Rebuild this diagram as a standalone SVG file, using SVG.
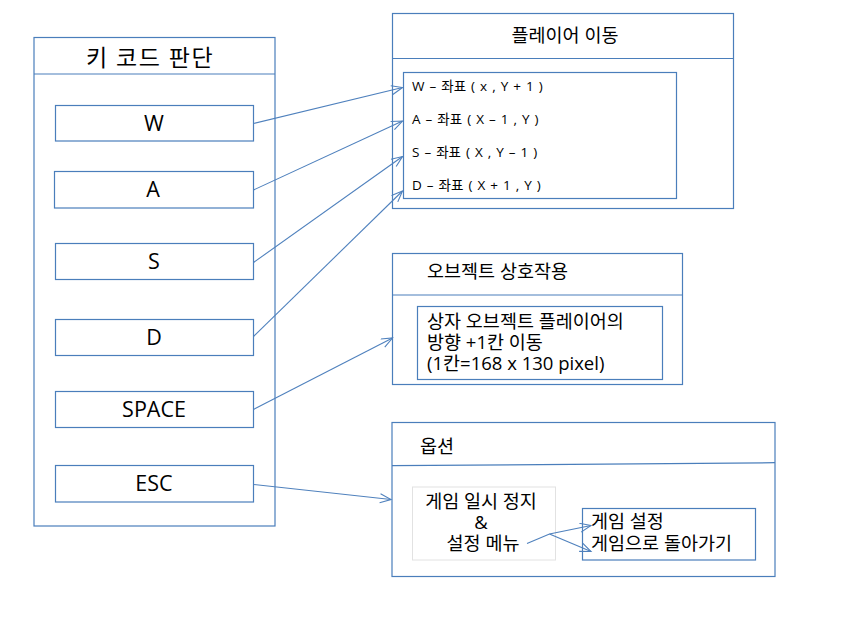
<svg xmlns="http://www.w3.org/2000/svg" width="841" height="629" viewBox="0 0 841 629">
<defs>
<style>
.b{fill:#fff;stroke:#4A7EBB;stroke-width:1.2}
.g{fill:#fff;stroke:#e2e2e2;stroke-width:1}
.ln{stroke:#4A7EBB;stroke-width:1.2;fill:none}
.c{stroke:#4F81BD;stroke-width:1.1;fill:none;marker-end:url(#ah)}
text{font-family:"Open Sans","Noto Sans CJK KR",sans-serif;fill:#000}
.t22{font-size:23px;text-anchor:middle;letter-spacing:1.5px}
.k{font-size:21.5px;text-anchor:middle}
.h{font-size:18.5px}
.s{font-size:13.5px;word-spacing:1.5px}
.m{font-size:18.5px}
</style>
<marker id="ah" markerUnits="userSpaceOnUse" markerWidth="14" markerHeight="12" refX="12" refY="5" orient="auto">
<path d="M1,0.5 L12,5 L1,9.5" fill="none" stroke="#4F81BD" stroke-width="1.1"/>
</marker>
</defs>
<rect width="841" height="629" fill="#fff"/>

<g id="keycode">
<rect class="b" x="34" y="37.5" width="241" height="488.5"/>
<line class="ln" x1="34" y1="74" x2="275" y2="74"/>
<text class="t22" x="150" y="66">키 코드 판단</text>
</g>
<g id="key-w"><rect class="b" x="55.5" y="105.5" width="198" height="35.5"/><text class="k" x="154" y="131">W</text></g>
<g id="key-a"><rect class="b" x="54.5" y="171.5" width="199" height="36.5"/><text class="k" x="153" y="197">A</text></g>
<g id="key-s"><rect class="b" x="55.5" y="243.5" width="198" height="36"/><text class="k" x="154" y="269">S</text></g>
<g id="key-d"><rect class="b" x="55.5" y="319.5" width="198" height="36"/><text class="k" x="154" y="345">D</text></g>
<g id="key-space"><rect class="b" x="55.5" y="391.5" width="198" height="36"/><text class="k" x="154" y="417">SPACE</text></g>
<g id="key-esc"><rect class="b" x="55.5" y="465.5" width="198" height="36.5"/><text class="k" x="154" y="491">ESC</text></g>

<g id="move">
<rect class="b" x="392.5" y="13.5" width="341" height="195"/>
<line class="ln" x1="392.5" y1="58.5" x2="733.5" y2="58.5"/>
<text class="h" x="565" y="42" text-anchor="middle">플레이어 이동</text>
<rect class="b" x="403.5" y="72.5" width="273" height="126"/>
<text class="s" x="412" y="91">W – 좌표 ( x , Y + 1 )</text>
<text class="s" x="412" y="124">A – 좌표 ( X – 1 , Y )</text>
<text class="s" x="412" y="157">S – 좌표 ( X , Y – 1 )</text>
<text class="s" x="412" y="190">D – 좌표 ( X + 1 , Y )</text>
</g>

<g id="object">
<rect class="b" x="392.5" y="253.5" width="290" height="131"/>
<line class="ln" x1="392.5" y1="295" x2="682.5" y2="295"/>
<text class="h" x="427" y="278">오브젝트 상호작용</text>
<rect class="b" x="417.5" y="306.5" width="245" height="73"/>
<text class="m" x="427" y="328">상자 오브젝트 플레이어의</text>
<text class="m" x="427" y="349">방향 +1칸 이동</text>
<text class="m" x="427" y="370">(1칸=168 x 130 pixel)</text>
</g>

<g id="option">
<rect class="b" x="392" y="422.5" width="383" height="154"/>
<line class="ln" x1="392" y1="465.7" x2="775" y2="462.7"/>
<text class="h" x="420" y="453">옵션</text>
<rect class="g" x="412.5" y="487" width="143" height="73"/>
<text class="m" x="481" y="508" text-anchor="middle">게임 일시 정지</text>
<text class="m" x="481" y="529" text-anchor="middle">&amp;</text>
<text class="m" x="483" y="550" text-anchor="middle">설정 메뉴</text>
<rect class="b" x="582.5" y="508.5" width="173" height="51.5"/>
<text class="m" x="591" y="528">게임 설정</text>
<text class="m" x="591" y="550">게임으로 돌아가기</text>
</g>

<g id="connectors">
<line class="c" x1="253.5" y1="123.5" x2="402.5" y2="87.5"/>
<line class="c" x1="253.5" y1="190" x2="402.5" y2="121"/>
<line class="c" x1="253.5" y1="262.5" x2="402.5" y2="156.5"/>
<line class="c" x1="253.5" y1="336.5" x2="402.5" y2="191"/>
<line class="c" x1="253.5" y1="409.5" x2="392.5" y2="338"/>
<line class="c" x1="253.5" y1="484.5" x2="391" y2="499.5"/>
<polyline class="c" points="527,543.5 549.5,534 591,525.5"/>
<line class="c" x1="549.5" y1="534" x2="591" y2="551.5"/>
</g>
</svg>
